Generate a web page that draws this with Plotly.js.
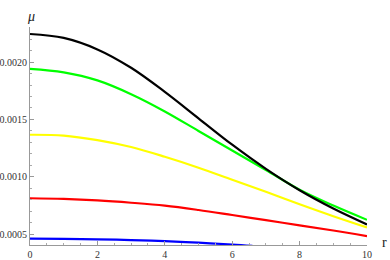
<!DOCTYPE html>
<html>
<head>
<meta charset="utf-8">
<script src="https://cdn.plot.ly/plotly-3.0.1.min.js"></script>
<style>html,body{margin:0;padding:0;background:#fff;}#chart{width:390px;height:260px;}</style>
</head>
<body>
<div id="chart"></div>
<script>
var r = [0, 1, 2, 3, 4, 5, 6, 7, 8, 9, 10];
var rBlue = [0, 1, 2, 3, 4, 5, 6, 6.6];
var muBlack  = [0.002244, 0.00221, 0.00211, 0.00195, 0.00174, 0.00151, 0.00128, 0.00107, 0.000884, 0.000725, 0.000586];
var muGreen  = [0.00194, 0.00191, 0.00184, 0.00172, 0.00157, 0.00140, 0.00123, 0.00106, 0.000888, 0.000750, 0.000626];
var muYellow = [0.001367, 0.00136, 0.00132, 0.00126, 0.001175, 0.00108, 0.000975, 0.00087, 0.000762, 0.000658, 0.00056];
var muRed    = [0.000814, 0.000808, 0.000795, 0.000775, 0.000750, 0.000712, 0.000668, 0.000623, 0.000578, 0.000533, 0.000484];
var muBlue   = [0.000462, 0.00046, 0.000456, 0.00045, 0.00044, 0.000427, 0.000411, 0.000399];
var yTickVals = [0.0005, 0.0010, 0.0015, 0.0020];
var yTickText = ["0.0005", "0.0010", "0.0015", "0.0020"];

function line(x, y, c) {
  return {x: x, y: y, type: "scatter", mode: "lines",
          line: {color: c, width: 2.2, shape: "spline", smoothing: 1}, hoverinfo: "none"};
}
var data = [
  line(rBlue, muBlue, "#0000ff"),
  line(r, muRed, "#ff0000"),
  line(r, muYellow, "#ffff00"),
  line(r, muGreen, "#00ff00"),
  line(r, muBlack, "#000000")
];
var axCommon = {
  showgrid: false, zeroline: false, showline: true, linecolor: "#999", linewidth: 1,
  ticks: "inside", ticklen: 4, tickcolor: "#999", tickwidth: 1,
  tickfont: {family: "Liberation Serif, Times New Roman, serif", size: 10, color: "#333"}
};
var layout = {
  width: 390, height: 260,
  margin: {l: 30, r: 23, t: 27, b: 15, pad: 0},
  paper_bgcolor: "#fff", plot_bgcolor: "#fff",
  showlegend: false,
  xaxis: Object.assign({}, axCommon, {
    range: [0, 10], tickvals: [0, 2, 4, 6, 8, 10], ticktext: ["0", "2", "4", "6", "8", "10"],
    minor: {dtick: 0.5, ticks: "inside", ticklen: 2, tickcolor: "#aaa"}
  }),
  yaxis: Object.assign({}, axCommon, {
    range: [0.000407, 0.002305], tickvals: yTickVals, ticktext: yTickText,
    minor: {dtick: 0.0001, tick0: 0, ticks: "inside", ticklen: 2, tickcolor: "#aaa"}
  }),
  annotations: [
    {text: "μ", xref: "paper", yref: "paper", x: 0.003, y: 1.05, xanchor: "center", yanchor: "middle",
     showarrow: false, font: {family: "Liberation Serif, serif", size: 14, color: "#222", style: "italic"}},
    {text: "r", xref: "paper", yref: "paper", x: 1.053, y: 0.01, xanchor: "center", yanchor: "middle",
     showarrow: false, font: {family: "Liberation Serif, serif", size: 14, color: "#222"}}
  ]
};
Plotly.newPlot("chart", data, layout, {staticPlot: true, displayModeBar: false});
</script>
</body>
</html>
